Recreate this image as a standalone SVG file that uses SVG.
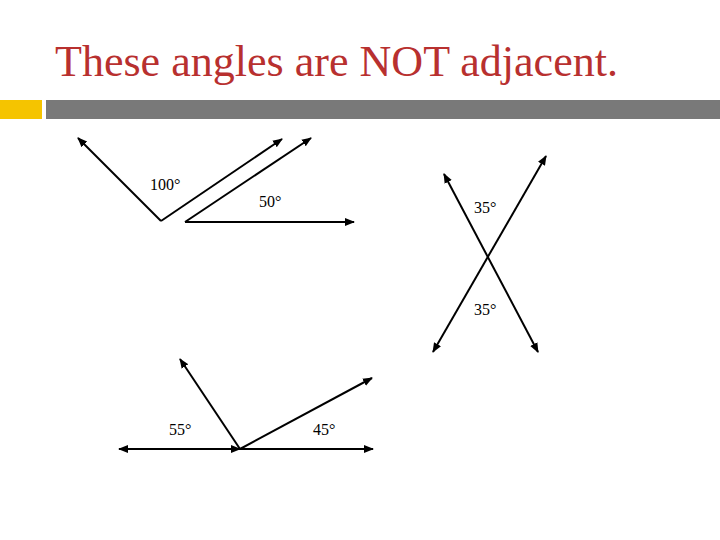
<svg xmlns="http://www.w3.org/2000/svg" width="720" height="540" viewBox="0 0 720 540">
<style>
.t{font-family:"Liberation Serif","Times New Roman",serif;font-size:16px;fill:#000}
.ray{stroke:#000;stroke-width:2;fill:none;marker-end:url(#ah)}
.line{stroke:#000;stroke-width:2;fill:none;marker-end:url(#ah);marker-start:url(#ahs)}
</style>
<defs>
<marker id="ah" viewBox="0 0 10 10" refX="9" refY="5" markerWidth="5" markerHeight="5" orient="auto" markerUnits="strokeWidth"><path d="M0,1 L10,5 L0,9 Z" fill="#000"/></marker>
<marker id="ahs" viewBox="0 0 10 10" refX="9" refY="5" markerWidth="5" markerHeight="5" orient="auto-start-reverse" markerUnits="strokeWidth"><path d="M0,1 L10,5 L0,9 Z" fill="#000"/></marker>
</defs>
<rect width="720" height="540" fill="#fff"/>
<text x="55" y="76" font-family="Liberation Serif,'Times New Roman',serif" font-size="45" fill="#B8302F" textLength="563" lengthAdjust="spacingAndGlyphs">These angles are NOT adjacent.</text>
<rect x="0" y="100" width="42" height="19" fill="#F5C400"/>
<rect x="46" y="100" width="674" height="19" fill="#797979"/>
<g id="connectors">
<path class="ray" d="M161,221 L78,138"/>
<path class="ray" d="M161,221 L282,139"/>
<path class="ray" d="M185,222 L311,138"/>
<path class="ray" d="M185,222 L354,222"/>
<path class="line" d="M538,352 L444,174"/>
<path class="line" d="M433,352 L546,156"/>
<path class="line" d="M240,449 L119,449"/>
<path class="ray" d="M240,449 L373,449"/>
<path class="ray" d="M240,449 L180,359"/>
<path class="ray" d="M240,449 L372,378"/>
</g>
<g id="a100"><text class="t" x="150" y="190">100°</text></g>
<g id="a50"><text class="t" x="259" y="207">50°</text></g>
<g id="a35t"><text class="t" x="474" y="213">35°</text></g>
<g id="a35b"><text class="t" x="474" y="315">35°</text></g>
<g id="a55"><text class="t" x="169" y="435">55°</text></g>
<g id="a45"><text class="t" x="313" y="435">45°</text></g>
</svg>
